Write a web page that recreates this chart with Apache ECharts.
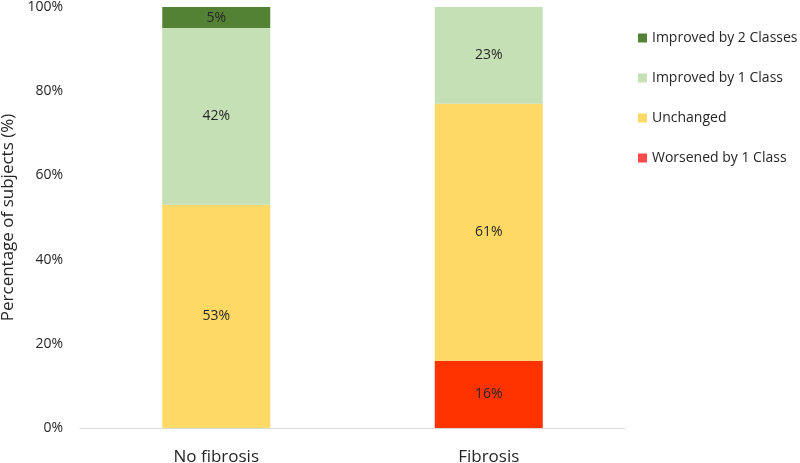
<!DOCTYPE html>
<html>
<head>
<meta charset="utf-8">
<script src="https://cdn.jsdelivr.net/npm/echarts@6/dist/echarts.min.js"></script>
<style>html,body{margin:0;padding:0;background:#fff}#c{width:800px;height:463px}</style>
</head>
<body>
<div id="c"></div>
<script>
var categories = ['No fibrosis', 'Fibrosis'];
var worsened1 = [null, 16];
var unchanged = [53, 61];
var improved1 = [42, 23];
var improved2 = [5, null];
var yTicks = [0, 20, 40, 60, 80, 100];

var font = '"Open Sans", "Noto Sans", sans-serif';
var chart = echarts.init(document.getElementById('c'));
function lbl() {
  return { show: true, position: 'inside', fontFamily: font, fontSize: 14, color: '#262626',
    formatter: function (p) { return p.value == null ? '' : p.value + '%'; } };
}
chart.setOption({
  animation: false,
  textStyle: { fontFamily: font },
  grid: { left: 80, right: 175, top: 7, bottom: 35, containLabel: false, outerBoundsMode: 'none' },
  legend: {
    orient: 'vertical', left: 633, top: 25, itemWidth: 9, itemHeight: 9, itemGap: 24,
    icon: 'rect',
    textStyle: { fontFamily: font, fontSize: 14, color: '#262626', lineHeight: 16 },
    data: [
      { name: 'Improved by 2 Classes' },
      { name: 'Improved by 1 Class' },
      { name: 'Unchanged' },
      { name: 'Worsened by 1 Class', itemStyle: { color: '#FF4848' } }
    ]
  },
  xAxis: {
    type: 'category', data: categories,
    axisLine: { lineStyle: { color: '#d9d9d9', width: 1 } },
    axisTick: { show: false },
    axisLabel: { fontFamily: font, fontSize: 17, color: '#262626', margin: 21 }
  },
  yAxis: {
    type: 'value', min: 0, max: 100, interval: 20,
    name: 'Percentage of subjects (%)', nameLocation: 'middle', nameGap: 56,
    nameTextStyle: { fontFamily: font, fontSize: 17, color: '#262626' },
    splitLine: { show: false },
    axisLine: { show: false }, axisTick: { show: false },
    axisLabel: { fontFamily: font, fontSize: 14, color: '#262626', margin: 17,
      formatter: function (v) { return yTicks.indexOf(v) >= 0 ? v + '%' : ''; } }
  },
  series: [
    { name: 'Worsened by 1 Class', type: 'bar', stack: 's', barWidth: 108, data: worsened1,
      itemStyle: { color: '#FF3300' }, label: lbl() },
    { name: 'Unchanged', type: 'bar', stack: 's', data: unchanged,
      itemStyle: { color: '#FFD966' }, label: lbl() },
    { name: 'Improved by 1 Class', type: 'bar', stack: 's', data: improved1,
      itemStyle: { color: '#C5E0B4' }, label: lbl() },
    { name: 'Improved by 2 Classes', type: 'bar', stack: 's', data: improved2,
      itemStyle: { color: '#548235' }, label: lbl() }
  ]
});
</script>
</body>
</html>
